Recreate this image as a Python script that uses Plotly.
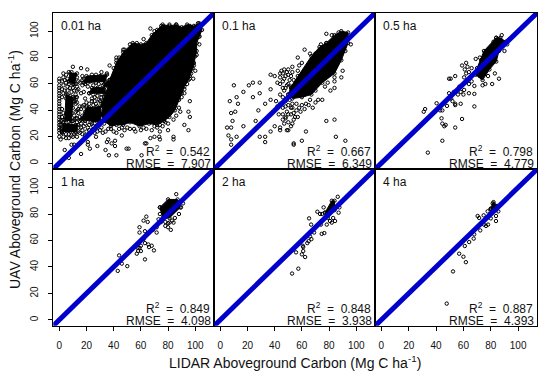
import plotly.graph_objects as go

TICKS = [0, 20, 40, 60, 80, 100]
LINE_ENDS = [-10, 125]
LABELS = ["0.01 ha", "0.1 ha", "0.5 ha", "1 ha", "2 ha", "4 ha"]
R2 = ["0.542", "0.667", "0.798", "0.849", "0.848", "0.887"]
RMSE = ["7.907", "6.349", "4.779", "4.098", "3.938", "4.393"]

# Solid (saturated) parts of each cloud, read as outlines from the picture
CORE_1_X = [37,42,47,54,60,64,68,72,76,81,86,90,94,99,103,105,103,101,101,100,99,97,95,92,90,88,85,81,77,72,66,59,52,47,42,38,33,30,31,34,33,37,None,
            2,12,14,3,2,None, 4,9,10,5,4,None, 22,34,36,24,22,None, 18,34,35,20,18,None, 16,30,32,20,16,None, 7,11,13,8,7]
CORE_1_Y = [63,76,84,91,90,91,97,101,105,104,105,103,105,104,106,101,96,91,85,81,74,68,63,58,53,48,40,35,32,29,30,28,31,29,29,28,32,38,45,52,60,63,None,
            24,24,29,30,24,None, 33,32,50,52,33,None, 53,53,58,57,53,None, 61,62,67,66,61,None, 33,31,43,42,33,None, 62,60,68,68,62]
CORE_2_X = [78,84,89,94,94,89,84,75,67,60,53,50,52,57,67,73,78]
CORE_2_Y = [91,97,100,99,91,78,68,61,52,50,49,52,58,66,81,88,91]
CORE_3_X = [84,87,91,86,84,79,74,69,70,75,84]
CORE_3_Y = [95,95,92,85,77,71,63,67,72,85,95]
CORE_4_X = [74,80,87,89,81,76,74]
CORE_4_Y = [85,91,91,85,77,77,85]
CORE_5_X = [77,82,84,84,79,77]
CORE_5_Y = [81,90,90,83,77,81]
CORE_6_X = [80,82,85,84,81,80]
CORE_6_Y = [84,89,86,83,81,84]

# Individually readable circles
PTS_1 = [
 (84,20),(84,18),(95,25),(92,29),(96,35),(95,39),(89,39),(96,47),(90,50),(80,25),(74,24),(70,20),(64,15),(63,15),
 (60.5,6),(42,6),(36.5,6),(34,10),(41,13),(49.5,11),(51,11),(16,7),(7,4),(4,10),(11,14),(9,14),(21,14),(22.5,11),
 (28,13),(21,16),(7,19),(27,20),(35,16),(36,18),(38.5,15),(41,17),(42,23),(46,21),(32,23),(67,19),(73.5,20),(74,18),
 (67,102),(47,86),(57,91),(56,88),(42,78),(45,78),(37,74),(103,90),(103,96),(101,82),(98.5,64),(96,64),(92,56),
 (75,104),(81,105),(86,105),(96,104),(102,106),(104,104),(70,100),(62,94),(52,90),(50,84),(44,80),(40,72),(99,76),(100,70),
 (10,73),(16,72),(20.6,71),(7,69),(3,68),(5,67),(9,69),(11.5,67),(0,64),(0,62),(18,64),(20,64),(24,67),(27,67),(31,69),(35,68),(29,64),
 (0,59),(0,57),(0,55),(0,53),(0,51),(0,49),(0,47),(0,45),(0,43),(0,41),(0,39),(0,37),(0,35),(0,33),(0,31),(0,29),(0,27),(0,25),(0,23),(0,20),(1,18),
 (3,65),(6,64),(9,66),(13,65),(17,66),(22,64),(26,65),(30,66),
 (2,62),(5,61),(8,63),(11,62),(15,61),(19,60),(23,62),(27,61),(31,63),(34,61),
 (3,59),(6,58),(10,60),(13,58),(17,59),(21,58),(25,59),(28,57),(32,59),
 (2,56),(4,55),(8,57),(11,55),(14,56),(18,54),(27,56),(30,55),(33,56),
 (3,53),(6,52),(9,54),(12,52),(16,53),(25,52),(28,54),(31,52),
 (2,50),(5,49),(8,51),(11,49),(13,50),(19,49),(26,50),(29,48),(33,50),
 (7,47),(10,46),(12,48),(20,46),(24,47),(27,45),(30,47),
 (7,44),(9,43),(12,45),(15,43),(18,44),(22,42),(25,44),(28,43),(32,44),
 (2,41),(8,40),(10,42),(13,40),(16,41),(19,39),(23,41),(26,40),(29,42),(31,39),
 (3,38),(5,37),(9,38),(11,36),(14,38),(17,36),(20,37),(24,38),(27,36),(30,37),
 (2,35),(6,34),(8,36),(12,34),(15,35),(18,33),(21,35),(25,33),(28,34),
 (1,32),(3,31),(5,33),(7,31),(10,32),(13,31),(16,30),(19,32),(23,31),(26,30),
 (1,29),(2,27),(4,29),(6,28),(8,30),(10,28),(12,29),(14,27),(18,28),(21,27),(25,28),
 (1,26),(2,24),(4,26),(6,25),(8,27),(10,25),(12,26),(14,24),(17,25),(20,24),(24,25),(28,24),
 (2,23),(5,22),(8,24),(11,22),(15,23),(19,21),(22,22),(26,23),(3,20),(5,19),(9,21),(13,20),
 (36,26),(40,24),(44,26),(48,25),(52,26),(56,24),(60,25),(64,26),(68,25),(72,27),(76,28),(80,30),(84,33),(31,27),(33,30),
 (12,60),(14,62),(17,63),(21,61),(25,63),(29,60),(4,63),(7,60),(10,57),(13,55),(6,55),(12,50),(11,47),(13,46),
 (31,50),(32,47),(34,45),(28,51),(24,49),(26,47),(22,45),(20,43),(17,43),(14,41),(12,39),(11,33),(13,34),(15,32),
 (19,30),(22,29),(24,30),(27,28),(29,30),(16,27),(12,23),(7,22),(10,20),(17,22),(22,25),(25,26),(30,25),(34,24),(38,26),
 (46,27),(50,27),(55,26),(62,27),(70,28),(74,29),(78,31),(86,36),(88,42),(92,53),(94,60),(96,66),(98,72),(42,80),(48,86),
]
PTS_2 = [
 (10,59),(21,59),(24,61),(29,61),(17,54),(12,50),(7,47),(13,45),(24,50),(29,53),(37,56),(37,67),(40,66),(28,40),(33,45),
 (11,39),(8,38),(9,32),(17,28),(26,32),(5,27),(8,27),(6,21),(8,18),(12,20),(8,14),(29,20),(33,20),(33,16),(37,24),(40,28),
 (44,25),(49,25),(54,15),(44,68),(47,71),(48,66),(46,62),(42,61),(49,59),(46,57),(51,63),(53,73),(51,48),(53,45),(48,47),
 (41,47),(37,48),(46,37),(48,34),(47,30),(43,37),(52,28),(54,33),(78,32),(84,33),(63,24),(85,20),(92,17),(54,14),(60,17),
 (50,25),(44,27),(62,86),(66,83),(57,80),(60,76),(50,71),(78,98),(87,99),(82,97),(89,65),(84,57),(81,55),(75,48),(72,48),
 (79,61),(77,58),(68,42),(62,41),(59,39),(57,35),(55,35),(50,37),(48,35),(66,48),(62,52),(56,45),(53,42),(65,44),(84,62),(84,65),
 (92,85),(96,90),(70,83),(74,90),(90,70),(47,55),(44,52),(50,52),(46,50),(58,42),(63,45),(70,46),(70,55),
 (45,70),(46,68),(49,69),(50,67),(47,64),(44,65),(52,66),(53,69),(50,60),(48,57),(52,57),(55,60),(54,63),(57,70),(58,74),
 (44,60),(50,44),(52,42),(56,40),(60,44),(48,43),(46,42),(44,45),(42,43),(49,39),(52,37),(54,38),(46,33),(50,31),(53,30),
]
PTS_3 = [
 (49.5,64),(54,66),(59,74),(62,76),(63,73),(61,71),(69,79),(72,80),(60.5,65),(64,69),(81,60),(86,64),(74,59),(68,58.5),
 (49.5,53),(53,54),(57,58),(60.5,55.5),(60,52),(64,53),(68,52.5),(56,52),(58,54),(51,49),(54,44),(58,45),(52,47),(68,43),
 (43,40),(44,34),(47,29),(44.6,30),(54,27),(59,33.5),(44.6,17),(34,8),(32,41),(31,39),(40.4,45.4),(46,28),(48,43.4),(44.6,40),
 (54,45),(50.7,64),(88,97),(92,90),(90,85),(82,92),(78,86),(73,78),(66,72),(64,60),(62,68),(66,62),(78,66),(76,60),(83,68),(72,66),
]
PTS_4 = [
 (86,95),(64,78),(62,75),(65,74),(59,70),(59,66),(63,67),(67,67),(62,61),(71.6,66),(73,76),(78,71),(80,70),(84,73.5),(81,73.5),
 (78,74),(85,77),(89.5,85),(63,58),(65.5,57),(68,56),(66,55),(69.6,52.5),(59,54.5),(58,52),(57,50),(57.6,54.5),(63,45.7),(44,48.7),
 (46,42.5),(50,40.6),(43,37),(71.6,70),(82,68),(76,83),(74,80),(91,88),(88,80),(80,73),(75,74),(83,75),(69,68),(60,52),(60,56),
]
PTS_5 = [
 (86.4,93),(76,85),(71.4,81.7),(73.4,80),(75,80),(65.3,76.7),(66.8,72),(82,73.5),(84.4,74.7),(78.3,72),(74.6,65),(76.5,65.6),
 (69,66),(65,59.5),(67,61),(66,63),(60.7,56),(61,55),(55.7,51),(60,49.5),(62.4,47.5),(57.4,38.7),(52.8,35),(87,81),(87.6,85),
 (83,77),(80.7,74.7),(70,70),(74,72),(64,58),(61,52),
]
PTS_6 = [
 (81.4,88),(82.6,86),(80,83.5),(70.4,78.5),(71.5,77),(74.8,79),(77.7,82),(85.5,82),(83.8,78.5),(83.8,74.7),(80,76.7),(76.5,71),
 (78,72),(72.3,67.6),(67.9,64.6),(67.5,61.4),(64.2,58.8),(61,55.8),(56.9,50),(60,47.7),(61.8,43.6),(52.4,36.6),(47.8,12.3),
 (82,87),(83,85),(84,86),(85,85),(82,84),(84,84),(83,83),(75,72),(80,80),
]
PANELS = [
 (CORE_1_X, CORE_1_Y, PTS_1), (CORE_2_X, CORE_2_Y, PTS_2), (CORE_3_X, CORE_3_Y, PTS_3),
 (CORE_4_X, CORE_4_Y, PTS_4), (CORE_5_X, CORE_5_Y, PTS_5), (CORE_6_X, CORE_6_Y, PTS_6),
]

W, H = 550, 380
COL = [(53.3, 214.3), (214.3, 375.3), (375.3, 537.3)]
ROW = [(12.7, 169.0), (169.0, 325.7)]
AXIS_RANGE_X = [-4.4, 114]
AXIS_RANGE_Y = [-4.4, 114]
FONT = "Liberation Sans, Arial, sans-serif"
INK = "#111111"
BLUE = "#0000cd"
MARK = dict(symbol="circle-open", size=3.4, color="black", line=dict(width=1))

fig = go.Figure()
layout = dict(
    width=W, height=H, autosize=False, margin=dict(l=0, r=0, t=0, b=0),
    paper_bgcolor="white", plot_bgcolor="white", showlegend=False,
    font=dict(family=FONT, color=INK),
)
annotations = []


def note(text, px, py, anchor, size, angle=0):
    annotations.append(dict(
        text=text, x=px / W, y=1 - py / H, xref="paper", yref="paper",
        xanchor=anchor, yanchor="middle", showarrow=False, textangle=angle,
        font=dict(size=size, family=FONT, color=INK),
    ))


for i, (cx, cy, pts) in enumerate(PANELS):
    r, c = divmod(i, 3)
    n = str(i + 1) if i else ""
    xname, yname = "x" + n, "y" + n
    fig.add_trace(go.Scatter(
        x=cx, y=cy, mode="markers+lines", fill="toself", fillcolor="black",
        line=dict(color="black", width=1), marker=MARK,
        xaxis=xname, yaxis=yname, hoverinfo="skip",
    ))
    fig.add_trace(go.Scatter(
        x=[p[0] for p in pts], y=[p[1] for p in pts], mode="markers", marker=MARK,
        xaxis=xname, yaxis=yname, hoverinfo="skip",
    ))
    fig.add_trace(go.Scatter(
        x=LINE_ENDS, y=LINE_ENDS, mode="lines", line=dict(color=BLUE, width=5),
        xaxis=xname, yaxis=yname, hoverinfo="skip",
    ))
    layout["xaxis" + n] = dict(
        domain=[COL[c][0] / W, COL[c][1] / W], range=AXIS_RANGE_X, anchor=yname,
        tickmode="array", tickvals=TICKS, ticktext=[str(t) for t in TICKS],
        showticklabels=r == 1, ticks="outside" if r == 1 else "", ticklen=4, tickcolor="black",
        ticklabelstandoff=6, tickangle=0, tickfont=dict(size=10, family=FONT, color=INK),
        showgrid=False, zeroline=False, showline=True, mirror=True, linecolor="black", linewidth=1,
    )
    layout["yaxis" + n] = dict(
        domain=[1 - ROW[r][1] / H, 1 - ROW[r][0] / H], range=AXIS_RANGE_Y, anchor=xname,
        tickmode="array", tickvals=TICKS, ticktext=[str(t) for t in TICKS],
        showticklabels=c == 0, ticks="outside" if c == 0 else "", ticklen=4, tickcolor="black",
        ticklabelstandoff=6, tickangle=-90, tickfont=dict(size=10, family=FONT, color=INK),
        showgrid=False, zeroline=False, showline=True, mirror=True, linecolor="black", linewidth=1,
    )
    note(LABELS[i], COL[c][0] + 5.5, ROW[r][0] + 13, "left", 12)
    note("R<sup>2</sup>\u00a0\u00a0=\u00a0\u00a0" + R2[i], COL[c][1] - 2, ROW[r][1] - 18, "right", 12)
    note("RMSE\u00a0\u00a0=\u00a0\u00a0" + RMSE[i], COL[c][1] - 1, ROW[r][1] - 5, "right", 12)

note("LIDAR Aboveground Carbon (Mg C ha<sup>-1</sup>)", 295, 362, "center", 14)
note("UAV Aboveground Carbon (Mg C ha<sup>-1</sup>)", 14, 170, "center", 14, angle=-90)

layout["annotations"] = annotations
fig.update_layout(**layout)
fig.write_html("out.html", post_script="document.body.style.margin='0';", config={"displayModeBar": False})
